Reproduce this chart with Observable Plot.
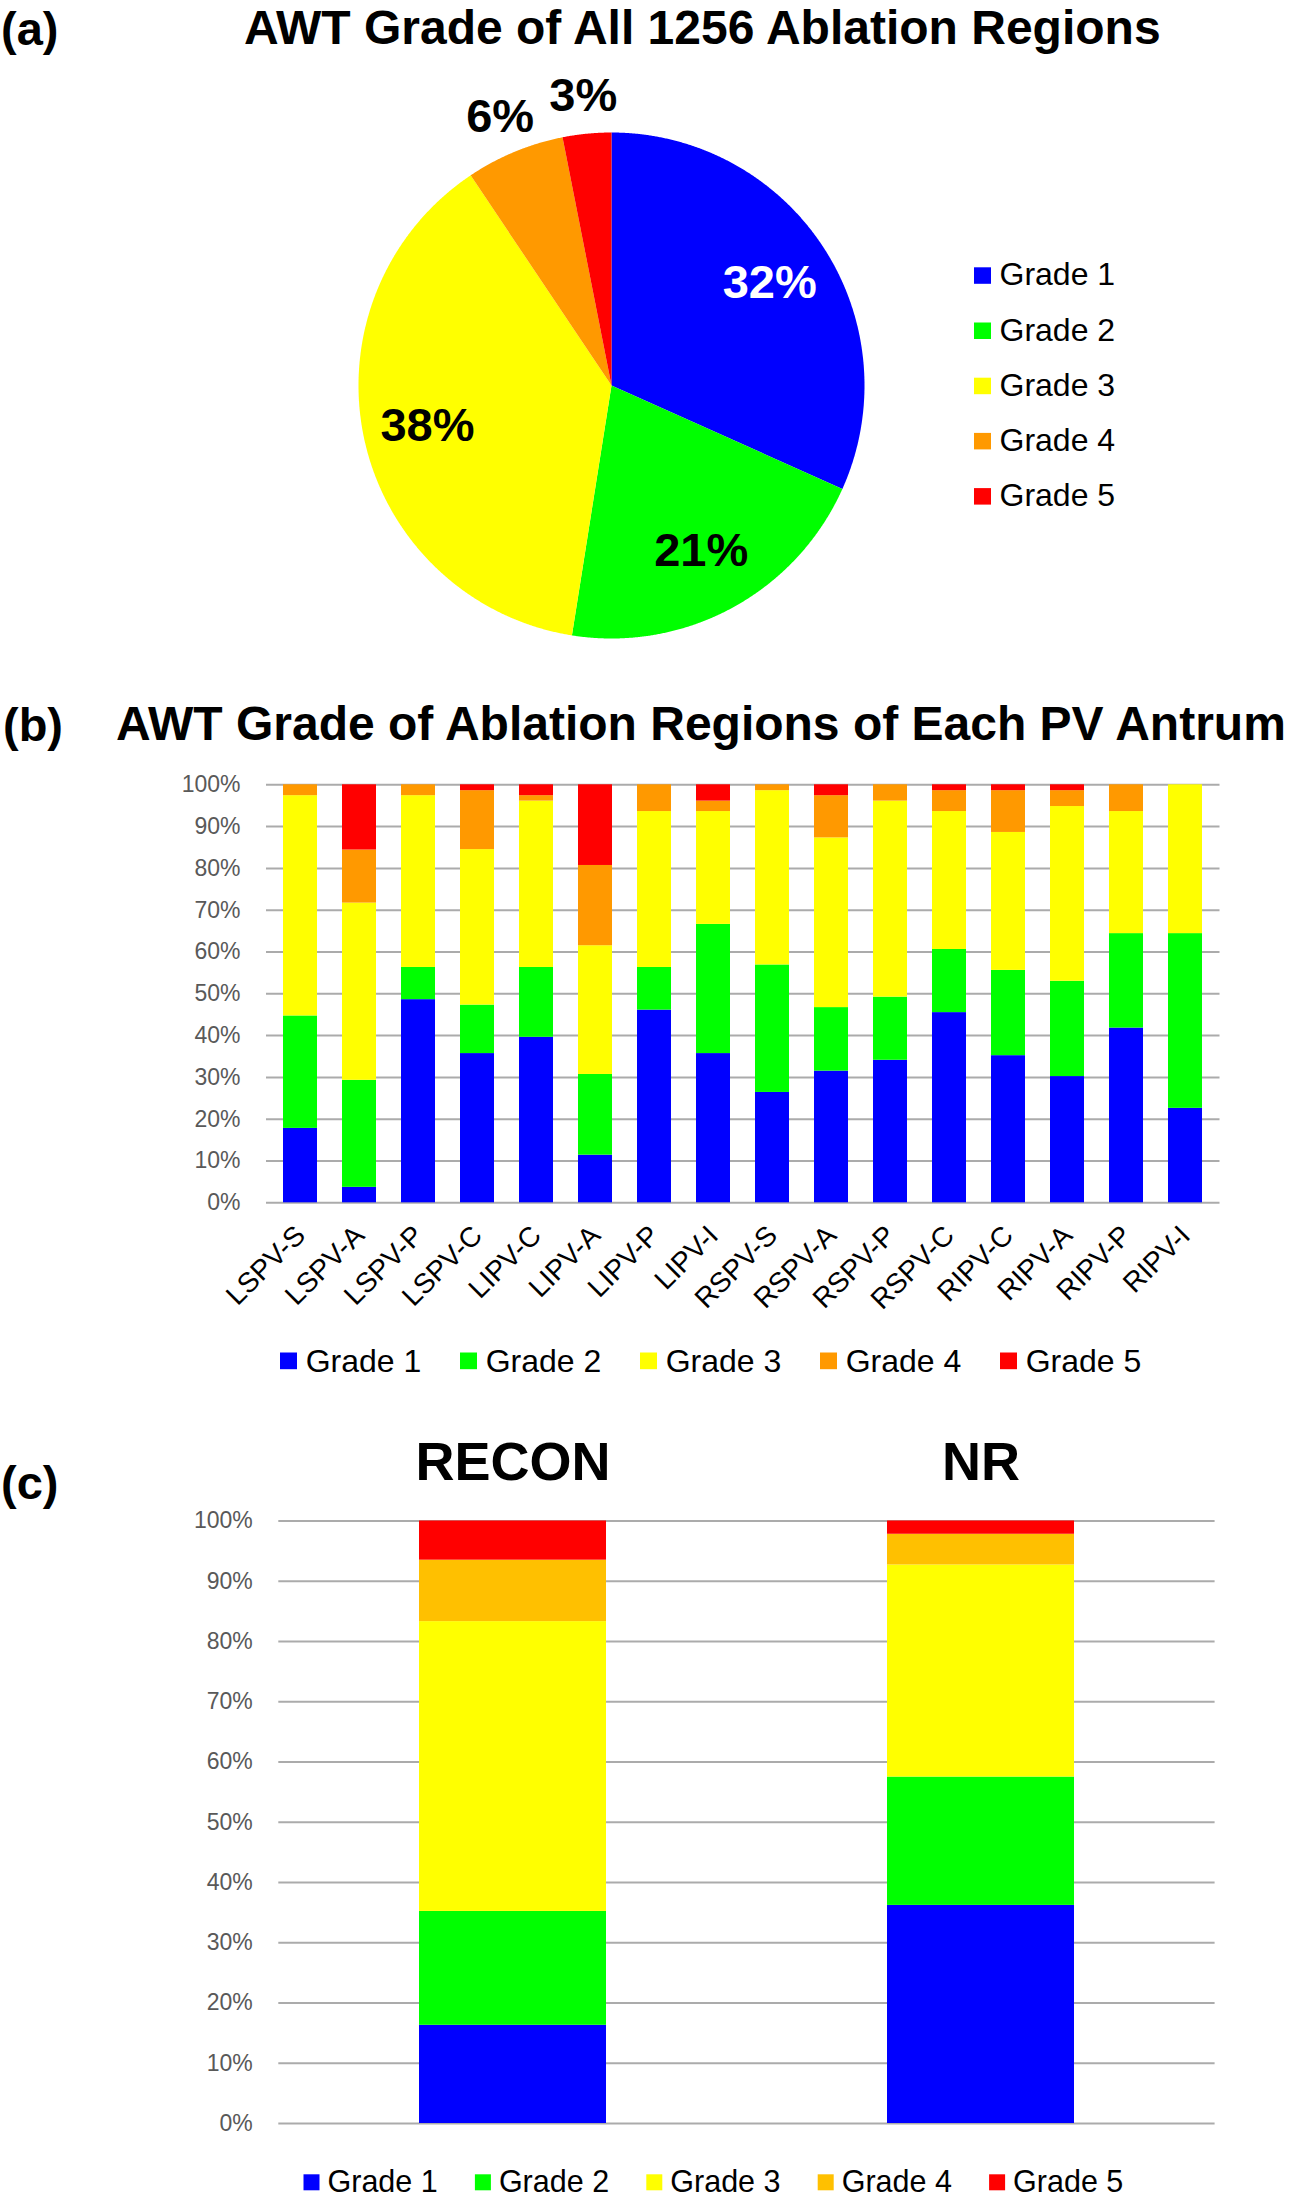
<!DOCTYPE html>
<html><head><meta charset="utf-8">
<script src="https://cdn.jsdelivr.net/npm/d3@7"></script>
<script src="https://cdn.jsdelivr.net/npm/@observablehq/plot@0.6"></script>
<style>
html,body{margin:0;padding:0;background:#fff;}
#root{position:relative;width:1298px;height:2203px;overflow:hidden;}
.abs{position:absolute;}
</style></head><body><div id="root"></div>
<script>
// ---------------- DATA ----------------
const grades = ["Grade 1", "Grade 2", "Grade 3", "Grade 4", "Grade 5"];
const colorsAB = ["#0000FF", "#00FF00", "#FFFF00", "#FF9900", "#FF0000"];
const colorsC = ["#0000FF", "#00FF00", "#FFFF00", "#FFC000", "#FF0000"];

// (a) share of all 1256 ablation regions (%)
const pieShare = [31.7, 20.8, 38.1, 6.3, 3.1];

// (b) per PV antrum segment (%)
const sites = ["LSPV-S", "LSPV-A", "LSPV-P", "LSPV-C", "LIPV-C", "LIPV-A", "LIPV-P", "LIPV-I",
               "RSPV-S", "RSPV-A", "RSPV-P", "RSPV-C", "RIPV-C", "RIPV-A", "RIPV-P", "RIPV-I"];
const siteG1 = [17.8, 3.7, 48.6, 35.7, 39.6, 11.4, 46.1, 35.7, 26.4, 31.5, 34.1, 45.5, 35.2, 30.2, 41.8, 22.6];
const siteG2 = [26.9, 25.6, 7.7, 11.6, 16.7, 19.3, 10.2, 30.9, 30.5, 15.2, 15.1, 15.1, 20.4, 22.8, 22.6, 41.8];
const siteG3 = [52.7, 42.4, 41.1, 37.2, 39.8, 30.8, 37.3, 27.0, 41.7, 40.6, 46.9, 33.0, 33.0, 41.8, 29.2, 35.6];
const siteG4 = [2.6, 12.7, 2.6, 14.1, 1.3, 19.2, 6.4, 2.5, 1.4, 10.1, 3.9, 5.0, 10.0, 3.8, 6.4, 0];
const siteG5 = [0, 15.6, 0, 1.4, 2.6, 19.3, 0, 3.9, 0, 2.6, 0, 1.4, 1.4, 1.4, 0, 0];

// (c) RECON vs NR (%)
const groups = ["RECON", "NR"];
const groupG1 = [16.3, 36.2];
const groupG2 = [18.9, 21.3];
const groupG3 = [48.1, 35.2];
const groupG4 = [10.2, 5.1];
const groupG5 = [6.5, 2.2];

const yTicks = [0, 10, 20, 30, 40, 50, 60, 70, 80, 90, 100];

const titleA = "AWT Grade of All 1256 Ablation Regions";
const titleB = "AWT Grade of Ablation Regions of Each PV Antrum";
const panelLetters = ["(a)", "(b)", "(c)"];

// ---------------- HELPERS ----------------
const FONT = '"Liberation Sans", Arial, Helvetica, sans-serif';
const GRID = "#ABABAB";
const TICK = "#595959";
const root = document.getElementById("root");
function place(el, left, top) {
  const d = document.createElement("div");
  d.className = "abs";
  d.style.left = left + "px";
  d.style.top = top + "px";
  d.appendChild(el);
  root.appendChild(d);
}
const baseStyle = {fontFamily: FONT, background: "none", overflow: "visible", color: "black"};

// ---------------- (a) PIE ----------------
const R = 253, PW = 600, PH = 650, PCX = 611, PCY = 385;
let cum = 0;
const pieSlices = [], pieLabels = [];
pieShare.forEach((v, i) => {
  const a0 = cum / 100 * 2 * Math.PI, a1 = (cum + v) / 100 * 2 * Math.PI;
  const n = Math.max(2, Math.ceil((a1 - a0) / 0.004));
  pieSlices.push({grade: grades[i], x: 0, y: 0});
  for (let k = 0; k <= n; k++) {
    const t = a0 + (a1 - a0) * k / n;
    pieSlices.push({grade: grades[i], x: Math.sin(t), y: Math.cos(t)});
  }
  pieSlices.push({grade: grades[i], x: 0, y: 0});
  const m = (a0 + a1) / 2, r = v < 10 ? 1.15 : 0.745;
  pieLabels.push({grade: grades[i], x: r * Math.sin(m), y: r * Math.cos(m), label: Math.round(v) + "%"});
  cum += v;
});
const pie = Plot.plot({
  width: PW, height: PH, margin: 0,
  x: {domain: [-PW / 2 / R, PW / 2 / R], axis: null},
  y: {domain: [-PH / 2 / R, PH / 2 / R], axis: null},
  color: {domain: grades, range: colorsAB},
  style: baseStyle,
  marks: [
    Plot.line(pieSlices, {x: "x", y: "y", z: "grade", fill: "grade", stroke: "none", curve: "linear"}),
    Plot.text(pieLabels, {filter: d => d.grade === grades[0], x: "x", y: "y", text: "label", fill: "white",
      fontSize: 47, fontWeight: "bold", textAnchor: "middle", lineAnchor: "middle"}),
    Plot.text(pieLabels, {filter: d => d.grade !== grades[0], x: "x", y: "y", text: "label", fill: "black",
      fontSize: 47, fontWeight: "bold", textAnchor: "middle", lineAnchor: "middle"})
  ]
});
place(pie, PCX - PW / 2, PCY - PH / 2);

// ---------------- (b) STACKED BARS ----------------
const siteSeries = [siteG1, siteG2, siteG3, siteG4, siteG5];
const siteData = [];
sites.forEach((s, j) => siteSeries.forEach((arr, i) => siteData.push({site: s, grade: grades[i], value: arr[j]})));
const B_TOP = 760, B_H = 560;
const chartB = Plot.plot({
  width: 1298, height: B_H,
  marginTop: 784.3 - B_TOP, marginBottom: B_TOP + B_H - 1202.3,
  marginLeft: 266, marginRight: 1298 - 1219.5,
  x: {domain: sites, paddingInner: 0.43, paddingOuter: 0.215, label: null},
  y: {domain: [0, 100], label: null},
  color: {domain: grades, range: colorsAB},
  style: baseStyle,
  marks: [
    Plot.ruleY(yTicks, {stroke: GRID, strokeWidth: 2}),
    Plot.barY(siteData, {x: "site", y: "value", fill: "grade"}),
    Plot.axisY(yTicks, {tickSize: 0, tickPadding: 26, tickFormat: d => d + "%", fontSize: 23, color: TICK, label: null}),
    Plot.axisX({tickRotate: -45, tickSize: 0, tickPadding: 28, fontSize: 28, color: "black", label: null})
  ]
});
place(chartB, 0, B_TOP);

// ---------------- (c) STACKED BARS ----------------
const groupSeries = [groupG1, groupG2, groupG3, groupG4, groupG5];
const groupData = [];
groups.forEach((g, j) => groupSeries.forEach((arr, i) => groupData.push({group: g, grade: grades[i], value: arr[j]})));
const C_TOP = 1420, C_H = 720;
const chartC = Plot.plot({
  width: 1298, height: C_H,
  marginTop: 1520.5 - C_TOP, marginBottom: C_TOP + C_H - 2123,
  marginLeft: 278.3, marginRight: 1298 - 1214.6,
  x: {domain: groups, paddingInner: 0.6, paddingOuter: 0.3, label: null},
  y: {domain: [0, 100], label: null},
  color: {domain: grades, range: colorsC},
  style: baseStyle,
  marks: [
    Plot.ruleY(yTicks, {stroke: GRID, strokeWidth: 2}),
    Plot.barY(groupData, {x: "group", y: "value", fill: "grade"}),
    Plot.axisY(yTicks, {tickSize: 0, tickPadding: 26, tickFormat: d => d + "%", fontSize: 23, color: TICK, label: null}),
    Plot.axisX({anchor: "top", tickSize: 0, tickPadding: 41.5, fontSize: 54, fontWeight: "bold", color: "black", label: null})
  ]
});
place(chartC, 0, C_TOP);

// ---------------- TITLES & LEGENDS (overlay) ----------------
const NS = "http://www.w3.org/2000/svg";
const ov = document.createElementNS(NS, "svg");
ov.setAttribute("width", 1298);
ov.setAttribute("height", 2203);
ov.style.fontFamily = FONT;
ov.style.pointerEvents = "none";
function txt(s, x, y, size, weight, fill) {
  const t = document.createElementNS(NS, "text");
  t.setAttribute("x", x); t.setAttribute("y", y);
  t.setAttribute("font-size", size);
  t.setAttribute("font-weight", weight || "normal");
  t.setAttribute("fill", fill || "black");
  t.textContent = s;
  ov.appendChild(t);
}
function sq(x, y, w, h, fill) {
  const r = document.createElementNS(NS, "rect");
  r.setAttribute("x", x); r.setAttribute("y", y);
  r.setAttribute("width", w); r.setAttribute("height", h);
  r.setAttribute("fill", fill);
  ov.appendChild(r);
}
txt(panelLetters[0], 1, 44.5, 47, "bold");
txt(titleA, 244, 43.5, 48, "bold");
txt(panelLetters[1], 3, 741, 47, "bold");
txt(titleB, 116, 739.5, 48, "bold");
txt(panelLetters[2], 1, 1499, 47, "bold");

// legend (a): vertical
grades.forEach((g, i) => {
  sq(974, 267.3 + i * 55.2, 17, 16.5, colorsAB[i]);
  txt(g, 999.5, 285.3 + i * 55.2, 32);
});
// legend (b): horizontal
grades.forEach((g, i) => {
  sq(280 + i * 180, 1352.5, 17, 16.7, colorsAB[i]);
  txt(g, 305.7 + i * 180, 1371.5, 32);
});
// legend (c): horizontal
grades.forEach((g, i) => {
  sq(303.5 + i * 171.4, 2174.3, 16, 16, colorsC[i]);
  txt(g, 327.5 + i * 171.4, 2191.5, 30.5);
});
const od = document.createElement("div");
od.className = "abs"; od.style.left = "0px"; od.style.top = "0px";
od.appendChild(ov);
root.appendChild(od);
</script>
</body></html>
